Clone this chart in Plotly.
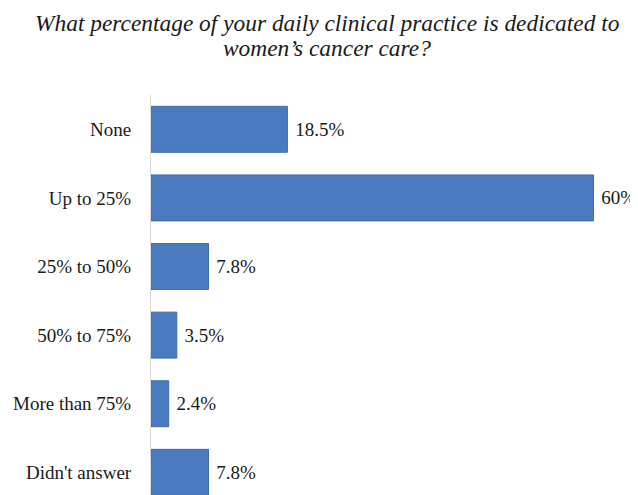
import plotly.graph_objects as go

categories = ["None", "Up to 25%", "25% to 50%", "50% to 75%", "More than 75%", "Didn't answer"]
values = [18.5, 60, 7.8, 3.5, 2.4, 7.8]
labels = ["18.5%", "60%", "7.8%", "3.5%", "2.4%", "7.8%"]
title_lines = ["What percentage of your daily clinical practice is dedicated to",
               "women’s cancer care?"]

FONT = "Liberation Serif, Times New Roman, serif"

fig = go.Figure(go.Bar(
    y=categories,
    x=values,
    orientation="h",
    text=["\u00a0" + t for t in labels],
    textposition="outside",
    cliponaxis=False,
    constraintext="none",
    textfont=dict(family=FONT, size=19, color="#1a1a1a"),
    marker=dict(color="#4a7bc0", line=dict(color="#3f6cae", width=1)),
    width=0.67,
))

# page body has an 8px margin, so the canvas is 8px smaller and offset
fig.update_layout(
    width=630,
    height=487,
    margin=dict(l=143, r=18, t=87, b=0, autoexpand=False),
    paper_bgcolor="white",
    plot_bgcolor="white",
    showlegend=False,
    font=dict(family=FONT, size=19, color="#1a1a1a"),
    annotations=[
        dict(text=title_lines[0], xref="paper", yref="paper",
             x=0.375, y=1.18, xanchor="center", yanchor="middle",
             showarrow=False,
             font=dict(family=FONT, size=23.4, color="#1a1a1a", style="italic")),
        dict(text=title_lines[1], xref="paper", yref="paper",
             x=0.375, y=1.1175, xanchor="center", yanchor="middle",
             showarrow=False,
             font=dict(family=FONT, size=23.4, color="#1a1a1a", style="italic")),
    ],
)

fig.update_xaxes(range=[0, 63.6], visible=False, showgrid=False, zeroline=False)
fig.update_yaxes(
    categoryorder="array", categoryarray=categories,
    range=[5.33, -0.5],
    showline=True, linecolor="#d9d9d9", linewidth=1,
    ticks="", ticklabelstandoff=15, automargin=False,
    showgrid=False, zeroline=False,
    tickfont=dict(family=FONT, size=19, color="#1a1a1a"),
)

fig.write_html("out.html",
               post_script="document.documentElement.style.overflow='hidden';document.body.style.overflow='hidden';")
